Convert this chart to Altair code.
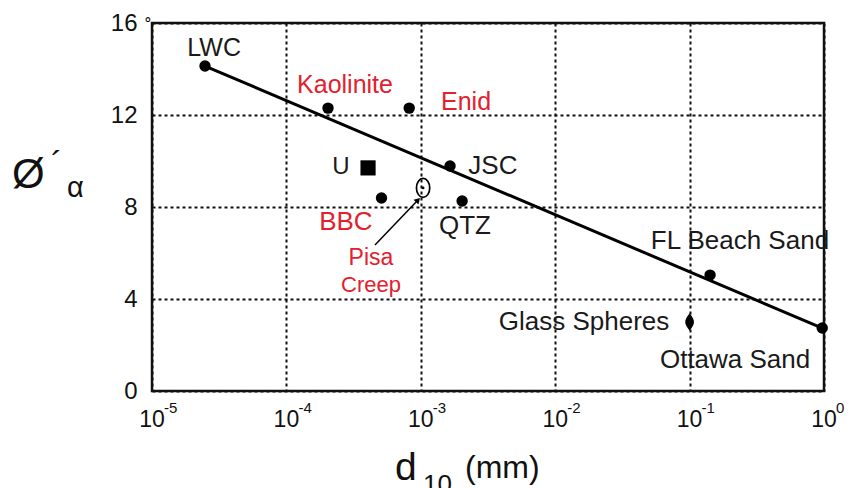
import altair as alt
import pandas as pd

FONT = "Liberation Sans"
RED = "#e3202e"

# ---- data ----
names = ["LWC", "Kaolinite", "Enid", "U", "JSC", "BBC", "Pisa Creep", "QTZ",
         "FL Beach Sand", "Glass Spheres", "Ottawa Sand"]
d10 = [2.48e-5, 2.04e-4, 8.2e-4, 4.05e-4, 1.65e-3, 5.1e-4, 1.04e-3, 2.03e-3, 0.142, 0.1, 0.97]
phi = [14.13, 12.3, 12.3, 9.7, 9.78, 8.39, 8.83, 8.26, 5.04, 3.0, 2.74]
marker = ["dot", "dot", "dot", "square", "dot", "dot", "open", "dot", "dot", "lens", "dot"]

label_text = ["LWC", "Kaolinite", "Enid", "U", "JSC", "BBC", "Pisa", "Creep", "QTZ",
              "FL Beach Sand", "Glass Spheres", "Ottawa Sand"]
label_x = [2.9e-5, 2.73e-4, 2.17e-3, 2.55e-4, 3.44e-3, 2.77e-4, 4.26e-4, 4.26e-4, 2.13e-3,
           0.237, 0.0164, 0.218]
label_y = [14.9, 13.3, 12.57, 9.74, 9.78, 7.35, 5.78, 4.61, 7.17, 6.52, 3.0, 1.35]
label_color = ["black", "red", "red", "black", "black", "red", "red", "red", "black",
               "black", "black", "black"]
label_size = [25, 25, 25, 24, 26, 26, 23, 22, 26, 26, 26, 26]

fit_x = [2.48e-5, 1.0]
fit_y = [14.13, 2.7]

arrow_x = [4.56e-4, 9.53e-4]
arrow_y = [6.35, 8.3]

x_ticks = [1e-5, 1e-4, 1e-3, 1e-2, 1e-1, 1e0]
x_exp = ["-5", "-4", "-3", "-2", "-1", "0"]
y_ticks = [0, 4, 8, 12, 16]

W, H = 672, 368

pts = pd.DataFrame({"name": names, "d10": d10, "phi": phi, "marker": marker})
labs = pd.DataFrame({"text": label_text, "x": label_x, "y": label_y,
                     "color": label_color, "size": label_size})
fit = pd.DataFrame({"x": fit_x, "y": fit_y})
arrow = pd.DataFrame({"x": arrow_x[:1], "y": arrow_y[:1], "x2": arrow_x[1:], "y2": arrow_y[1:]})
arrow_head = pd.DataFrame({"x": arrow_x[1:], "y": arrow_y[1:]})
xt = pd.DataFrame({"v": x_ticks, "e": x_exp})

xscale = alt.Scale(type="log", domain=[1e-5, 1])
yscale = alt.Scale(domain=[0, 16])

xaxis = alt.Axis(values=x_ticks, labels=False, ticks=False, domain=False, title=None,
                 grid=True, gridColor="#111", gridDash=[3, 3], gridWidth=2)
yaxis = alt.Axis(values=y_ticks, ticks=False, domain=False, title=None,
                 grid=True, gridColor="#111", gridDash=[3, 3], gridWidth=2,
                 labelFont=FONT, labelFontSize=24, labelColor="#111", labelPadding=15)


def X(field):
    return alt.X(field, type="quantitative", scale=xscale, axis=xaxis)


def Y(field):
    return alt.Y(field, type="quantitative", scale=yscale, axis=yaxis)


fit_line = alt.Chart(fit).mark_line(color="black", strokeWidth=3).encode(x=X("x"), y=Y("y"))

dots = alt.Chart(pts).transform_filter("datum.marker == 'dot'").mark_point(
    shape="circle", filled=True, color="black", size=130, opacity=1).encode(x=X("d10"), y=Y("phi"))
square = alt.Chart(pts).transform_filter("datum.marker == 'square'").mark_point(
    shape="square", filled=True, color="black", size=230, opacity=1).encode(x=X("d10"), y=Y("phi"))
ellipse_path = "M0,-1 A0.7,1 0 1,1 0,1 A0.7,1 0 1,1 0,-1 Z"
open_pt = alt.Chart(pts).transform_filter("datum.marker == 'open'").mark_point(
    shape=ellipse_path, filled=False, color="black", size=360, strokeWidth=1.7, opacity=1
).encode(x=X("d10"), y=Y("phi"))
open_center = alt.Chart(pts).transform_filter("datum.marker == 'open'").mark_point(
    shape="circle", filled=True, color="black", size=8, opacity=1).encode(x=X("d10"), y=Y("phi"))
lens_path = "M0,-1 Q0.55,-0.3 0.5,0 Q0.55,0.3 0,1 Q-0.55,0.3 -0.5,0 Q-0.55,-0.3 0,-1 Z"
lens = alt.Chart(pts).transform_filter("datum.marker == 'lens'").mark_point(
    shape=lens_path, filled=True, color="black", size=300, opacity=1).encode(x=X("d10"), y=Y("phi"))

arrow_line = alt.Chart(arrow).mark_rule(color="black", strokeWidth=1.5).encode(
    x=X("x"), y=Y("y"), x2="x2", y2="y2")
arrow_tip = alt.Chart(arrow_head).mark_point(
    shape="triangle-up", filled=True, color="black", size=45, angle=44, opacity=1
).encode(x=X("x"), y=Y("y"))

labels = alt.Chart(labs).mark_text(font=FONT, align="center", baseline="middle").encode(
    x=X("x"), y=Y("y"), text="text",
    size=alt.Size("size:Q", scale=None, legend=None),
    color=alt.Color("color:N", scale=alt.Scale(domain=["black", "red"], range=["#1a1a1a", RED]),
                    legend=None),
)

xt_base = alt.Chart(xt).mark_text(font=FONT, fontSize=23, color="#111", align="center",
                                  baseline="alphabetic").encode(
    x=X("v"), y=alt.value(H + 36), text=alt.value("10"))
xt_exp = alt.Chart(xt).mark_text(font=FONT, fontSize=15, color="#111", align="left",
                                 baseline="alphabetic", dx=12).encode(
    x=X("v"), y=alt.value(H + 22), text="e:N")

deg = alt.Chart(pd.DataFrame({"t": ["˚"]})).mark_text(
    font=FONT, fontSize=20, color="#111", align="left", baseline="top").encode(
    x=alt.value(-7), y=alt.value(-5), text="t:N")

ttl = pd.DataFrame({"t": ["Ø", "´", "α", "d", "10", "(mm)"],
                    "px": [-140, -101, -85, 243, 271, 313],
                    "py": [165, 152, 174, 457, 470, 455],
                    "fs": [42, 34, 29, 39, 26, 32]})
titles = alt.Chart(ttl).mark_text(font=FONT, color="#111", align="left", baseline="alphabetic").encode(
    x=alt.X("px:Q", scale=None), y=alt.Y("py:Q", scale=None), text="t:N",
    size=alt.Size("fs:Q", scale=None, legend=None))

chart = alt.layer(
    fit_line, arrow_line, arrow_tip, dots, square, open_pt, open_center, lens,
    labels, xt_base, xt_exp, deg, titles
).resolve_scale(x="shared", y="shared").properties(
    width=W, height=H,
    autosize=alt.AutoSizeParams(type="none"),
    padding={"left": 144, "top": 15, "right": 32, "bottom": 97},
    background="white",
).configure_view(stroke="#111", strokeWidth=2.5)

chart.save("out.html", embed_options={"renderer": "svg", "actions": False})
